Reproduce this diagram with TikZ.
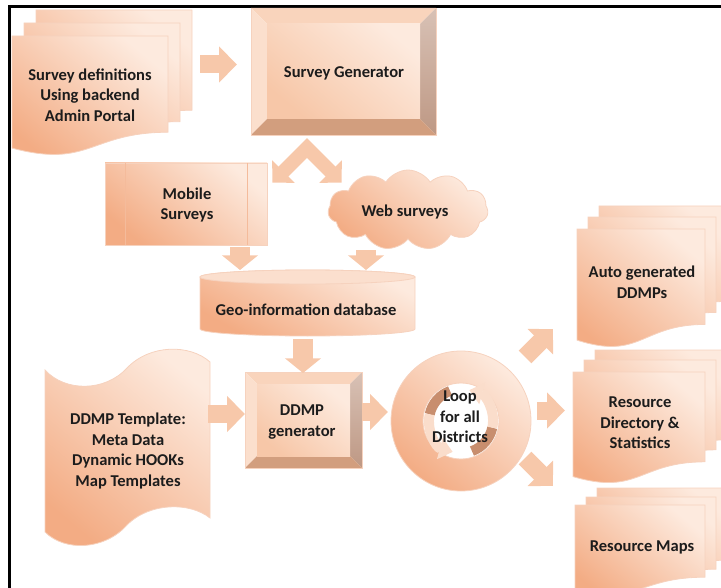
\documentclass[tikz,border=0pt]{standalone}
\usepackage{fontspec}
\setmainfont{Carlito}
\usetikzlibrary{arrows.meta,shapes.symbols}
\definecolor{peachD}{RGB}{243,172,132}
\definecolor{peachL}{RGB}{253,234,222}
\definecolor{peachM}{RGB}{247,199,168}
\definecolor{edgec}{RGB}{246,210,190}
\definecolor{arrowc}{RGB}{247,200,170}
\definecolor{bevT}{RGB}{249,212,188}
\definecolor{bevL}{RGB}{251,223,205}
\definecolor{bevR}{RGB}{190,152,132}
\definecolor{bevB}{RGB}{210,158,126}
\definecolor{darkarc}{RGB}{200,142,110}
\definecolor{textc}{RGB}{28,28,28}
\tikzset{
 pfill/.style={top color=peachL, bottom color=peachD, shading angle=-40, draw=edgec, line width=0.6pt},
 txt/.style={align=center, inner sep=0pt, text=textc, font=\fontsize{12.4pt}{15.4pt}\selectfont\bfseries},
 fat/.style={draw=arrowc, line width=13.5pt, -{Triangle[width=26.25pt, length=13.5pt]}},
 fatv/.style={draw=arrowc, line width=15pt, -{Triangle[width=26.5pt, length=11pt]}},
 chev/.style={draw=arrowc, line width=10.5pt, line join=miter, {Triangle[width=23.25pt, length=11.7pt]}-{Triangle[width=23.25pt, length=11.7pt]}},
 innerdark/.style={draw=darkarc, line width=7.5pt},
 innerlight/.style={draw=peachM!60!white, line width=7.5pt},
}
\newcommand\docsheet[4]{\path[pfill] (#1,#2) -- ({#1+#3},#2) -- ({#1+#3},{#2+0.802*#4}) .. controls ({#1+0.5*#3},{#2+0.802*#4}) and ({#1+0.5*#3},{#2+1.107*#4}) .. (#1,{#2+0.934*#4}) -- cycle;}
\newcommand\bevelbox[5]{%
 \fill[bevT] (#1,#2) -- (#3,#2) -- ({#3-#5},{#2+#5}) -- ({#1+#5},{#2+#5}) -- cycle;
 \fill[bevL] (#1,#2) -- ({#1+#5},{#2+#5}) -- ({#1+#5},{#4-#5}) -- (#1,#4) -- cycle;
 \shade[top color=bevR!60!white, bottom color=bevR] (#3,#2) -- (#3,#4) -- ({#3-#5},{#4-#5}) -- ({#3-#5},{#2+#5}) -- cycle;
 \fill[bevB] (#1,#4) -- (#3,#4) -- ({#3-#5},{#4-#5}) -- ({#1+#5},{#4-#5}) -- cycle;
 \shade[top color=peachL, bottom color=peachM, shading angle=-40] ({#1+#5},{#2+#5}) rectangle ({#3-#5},{#4-#5});
 \draw[edgec, line width=0.6pt] (#1,#2) rectangle (#3,#4);}
\begin{document}
\begin{tikzpicture}[x=0.75pt,y=-0.75pt]
\useasboundingbox (0,0) rectangle (721,588);
\clip (0,0) rectangle (721,588);
% frame
\draw[line width=2pt] (9.5,600) -- (9.5,6.5) -- (730,6.5);
% survey definitions (multi-document)
\docsheet{36}{10}{156}{125}
\docsheet{24}{23}{156}{123}
\docsheet{12}{36}{156}{120}
% survey generator
\bevelbox{251}{8}{436}{135}{16}
% mobile surveys
\path[pfill] (105,163) rectangle (267,245);
\draw[peachD!60!edgec, line width=0.6pt] (125,163) -- (125,245) (247,163) -- (247,245);
% web surveys cloud
\node[cloud, cloud puffs=11, cloud puff arc=115, aspect=2.1, minimum width=120pt, minimum height=60pt, inner sep=0pt, pfill] (webc) at (408,210) {};
% database cylinder
\path[top color=peachL, bottom color=peachD, shading angle=-30, draw=edgec, line width=0.6pt] (200,277) -- (200,329) arc[start angle=180, end angle=0, x radius=107.5, y radius=7] -- (415,277) arc[start angle=0, end angle=-180, x radius=107.5, y radius=7] -- cycle;
\path[fill=peachL!70!peachM, draw=edgec, line width=0.6pt] (307.5,277) ellipse[x radius=107.5, y radius=7];
% DDMP template (punched tape)
\path[pfill] (45,370) .. controls (65,392) and (105,392) .. (127,368) .. controls (150,344) and (190,344) .. (210,362) -- (210,518) .. controls (190,502) and (150,502) .. (127,525) .. controls (105,550) and (65,552) .. (45,532) -- cycle;
% DDMP generator
\bevelbox{245}{372}{362}{468}{12}
% loop ring
\path[pfill, even odd rule] (461,421) circle[radius=70] (461,421) circle[radius=38];
\begin{scope}[shift={(461,421)}, yscale=-1]
 \draw[innerdark] (110:32) arc[start angle=110, end angle=168, radius=32];
 \draw[innerlight, -{Triangle[width=16pt, length=10pt]}] (168:32) arc[start angle=168, end angle=255, radius=32];
 \draw[innerdark] (-70:32) arc[start angle=-70, end angle=-12, radius=32];
 \draw[innerlight, -{Triangle[width=16pt, length=10pt]}] (-12:32) arc[start angle=-12, end angle=75, radius=32];
\end{scope}
% output documents
\docsheet{599}{206}{128}{119}
\docsheet{588}{217}{128}{119}
\docsheet{577}{229}{128}{119}
\docsheet{595}{350}{132}{112}
\docsheet{584}{360}{132}{112}
\docsheet{573}{372}{132}{112}
\docsheet{597}{488}{130}{90}
\docsheet{586}{497}{130}{90}
\docsheet{575}{505}{130}{90}
% connector coordinates
\coordinate (a1s) at (200,64.5); \coordinate (a1e) at (237,64.5);
\coordinate (chL) at (272.4,182.6); \coordinate (chA) at (307,148); \coordinate (chR) at (341.6,182.6);
\coordinate (a2s) at (240,247); \coordinate (a2e) at (240,270);
\coordinate (a3s) at (366,250); \coordinate (a3e) at (366,270);
\coordinate (a4s) at (303,339); \coordinate (a4e) at (303,373);
\coordinate (a5s) at (208,414); \coordinate (a5e) at (245,414);
\coordinate (a6s) at (362,412); \coordinate (a6e) at (388,412);
\coordinate (a7s) at (525,357); \coordinate (a7e) at (553,329);
\coordinate (a8s) at (537,410.5); \coordinate (a8e) at (565,410.5);
\coordinate (a9s) at (525,458); \coordinate (a9e) at (553,486);
\draw[fat] (a1s) -- (a1e);
\draw[chev] (chL) -- (chA) -- (chR);
\draw[fatv] (a2s) -- (a2e);
\draw[fatv] (a3s) -- (a3e);
\draw[fatv] (a4s) -- (a4e);
\draw[fat] (a5s) -- (a5e);
\draw[fat] (a6s) -- (a6e);
\draw[fat] (a7s) -- (a7e);
\draw[fat] (a8s) -- (a8e);
\draw[fat] (a9s) -- (a9e);
% texts
\node[txt] (sdef) at (90,95) {Survey definitions\\Using backend\\Admin Portal};
\node[txt] (sgen) at (344,73) {Survey Generator};
\node[txt] (mob) at (187,205) {Mobile\\Surveys};
\node[txt] (web) at (405,212) {Web surveys};
\node[txt] (geo) at (306,310) {Geo-information database};
\node[txt] (tmpl) at (128,451) {DDMP Template:\\Meta Data\\Dynamic HOOKs\\Map Templates};
\node[txt] (dgen) at (302,422) {DDMP\\generator};
\node[txt] (loop) at (460,417) {Loop\\for all\\Districts};
\node[txt] (auto) at (642,282) {Auto generated\\DDMPs};
\node[txt] (rdir) at (640,423) {Resource\\Directory \&\\Statistics};
\node[txt] (rmap) at (642,547) {Resource Maps};
\end{tikzpicture}
\end{document}
